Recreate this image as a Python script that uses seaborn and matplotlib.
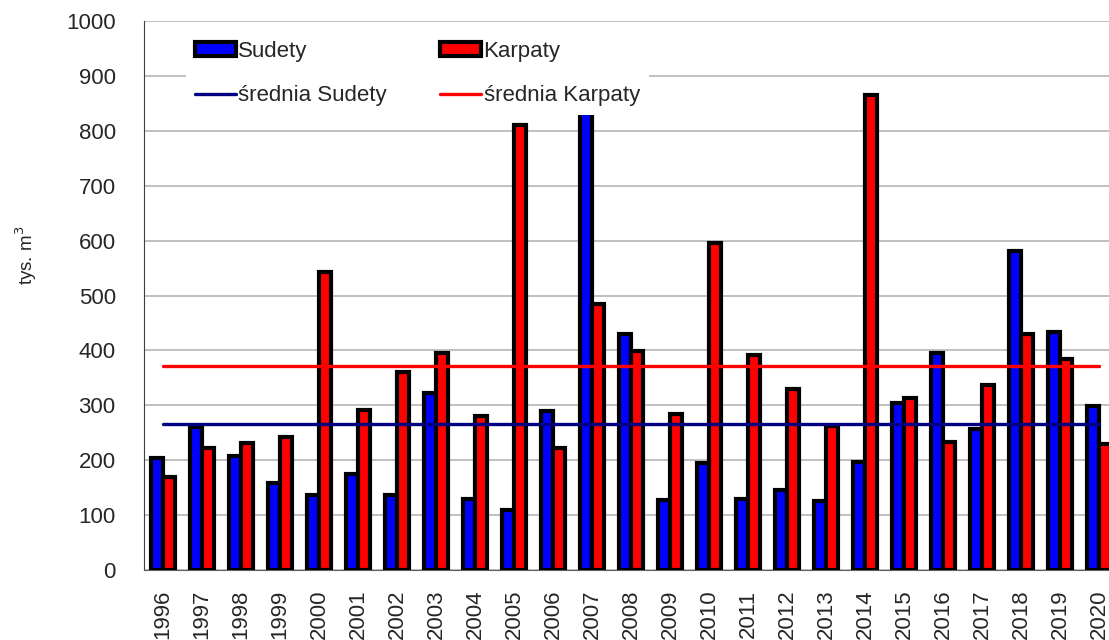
import pandas as pd
import matplotlib
matplotlib.use('Agg')
import matplotlib.pyplot as plt
import seaborn as sns
import numpy as np
from matplotlib.patches import Patch
from matplotlib.lines import Line2D

# dane (tys. m3)
years = [str(y) for y in range(1996, 2021)]
sudety = [204, 260, 207, 159, 136, 174, 137, 322, 129, 109, 289, 918, 429,
          128, 194, 129, 145, 125, 197, 305, 396, 256, 581, 434, 299]
karpaty = [169, 223, 232, 242, 543, 292, 361, 395, 280, 810, 222, 484, 398,
           285, 595, 392, 329, 263, 865, 313, 234, 337, 430, 384, 230]
mean_sudety = 266
mean_karpaty = 371

df = pd.DataFrame({'rok': years * 2,
                   'wartosc': sudety + karpaty,
                   'region': ['Sudety'] * len(years) + ['Karpaty'] * len(years)})

sns.set_style('white')
plt.rcParams['font.family'] = ['Liberation Sans', 'DejaVu Sans']

fig = plt.figure(figsize=(11.09, 6.4), dpi=100)
ax = fig.add_axes([143.5/1109, 70/640, 975/1109, 549/640])

sns.barplot(data=df, x='rok', y='wartosc', hue='region',
            palette={'Sudety': '#0000FF', 'Karpaty': '#FF0000'},
            saturation=1, width=0.62, edgecolor='black', linewidth=3,
            errorbar=None, legend=False, ax=ax)

xpos = np.arange(len(years))
ax.plot(xpos, [mean_sudety] * len(years), color='#000080', lw=2.4, zorder=4)
ax.plot(xpos, [mean_karpaty] * len(years), color='#FF0000', lw=2.4, zorder=4)

ax.set_xlim(-0.5, len(years) - 0.5)
ax.set_ylim(0, 1000)
ax.set_yticks(range(0, 1001, 100))
ax.set_xticks(xpos)
ax.set_xticklabels(years, rotation=90)
ax.set_xticks(np.arange(-0.5, len(years), 1), minor=True)
ax.tick_params(axis='x', which='major', length=0, pad=14, labelsize=16)
ax.tick_params(axis='x', which='minor', length=12, direction='inout',
               color='#606060', width=1)
ax.tick_params(axis='y', length=12, direction='inout', color='#404040',
               width=1, pad=14, labelsize=16)
ax.yaxis.grid(True, color='#c0c0c0', lw=1.4)
ax.set_axisbelow(True)
ax.set_xlabel('')
ax.set_ylabel('')
for s in ['top', 'right']:
    ax.spines[s].set_visible(False)
ax.spines['left'].set_color('#404040')
ax.spines['bottom'].set_color('#606060')

fig.text(26/1109, 1 - 255/640, 'tys. m$^3$', rotation=90,
         ha='center', va='center', fontsize=13.5)

handles = [Patch(facecolor='#0000FF', edgecolor='black', lw=3, label='Sudety'),
           Line2D([], [], color='#000080', lw=2.4, label='średnia Sudety'),
           Patch(facecolor='#FF0000', edgecolor='black', lw=3, label='Karpaty'),
           Line2D([], [], color='#FF0000', lw=2.4, label='średnia Karpaty')]
leg = ax.legend(handles=handles, ncol=2, loc='upper left',
                bbox_to_anchor=(186/1109, 1 - 32/640),
                bbox_transform=fig.transFigure, fontsize=16,
                frameon=True, facecolor='white', edgecolor='none',
                framealpha=1, fancybox=False, borderpad=0.4,
                borderaxespad=0, handlelength=1.85, handleheight=0.55,
                handletextpad=0.1, columnspacing=2.4, labelspacing=1.05)
leg.set_zorder(10)

fig.savefig('out.png', dpi=100)
